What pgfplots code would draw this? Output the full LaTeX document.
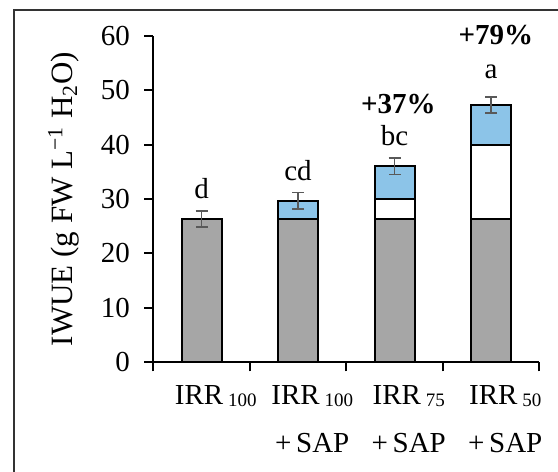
\documentclass[border=0pt,12pt]{standalone}
\usepackage{fontspec}
\setmainfont{Liberation Serif}
\usepackage{pgfplots}
\pgfplotsset{compat=1.18}
\definecolor{barblue}{RGB}{140,196,232}
\definecolor{bargray}{RGB}{166,166,166}
\definecolor{errgray}{RGB}{89,89,89}
\definecolor{framegray}{RGB}{51,51,51}
\newcommand{\sub}[1]{\,\raisebox{-0.15ex}{\fontsize{9.5}{10}\selectfont #1}}
\begin{document}
\begin{tikzpicture}
\useasboundingbox (-76.65pt,-54.85pt) rectangle (202.35pt,181.15pt);
\begin{axis}[
  at={(0,0)}, anchor=south west,
  scale only axis, width=193pt, height=163.3pt,
  xmin=-0.5, xmax=3.5, ymin=0, ymax=60,
  axis lines=left,
  axis line style={line width=1pt, -},
  ytick={0,10,...,60},
  xtick={-0.5,0.5,1.5,2.5,3.5},
  xticklabels={{IRR\sub{100}},{IRR\sub{100}\\+\,SAP},{IRR\sub{75}\\+\,SAP},{IRR\sub{50}\\+\,SAP},{}},
  tick align=outside,
  major tick length=4.5pt,
  tick style={line width=1pt, black},
  /pgf/number format/assume math mode=true,
  yticklabel style={font=\fontsize{14.5}{16}\selectfont, xshift=-3pt},
  xticklabel style={font=\fontsize{14.5}{24}\selectfont, align=center, anchor=north, xshift=31.2pt, yshift=-3pt},
  ylabel={IWUE (g FW L\textsuperscript{−1} H\textsubscript{2}O)},
  ylabel style={font=\fontsize{15.5}{17}\selectfont, at={(axis description cs:-0.232,0.5)}, anchor=center, rotate=0},
  clip=false,
]
\addplot[ybar, bar width=20pt, fill=barblue, draw=black, line width=1pt] coordinates {(1,29.7) (2,36.0) (3,47.3)};
\addplot[ybar, bar width=20pt, fill=white, draw=black, line width=1pt] coordinates {(2,30.0) (3,40.0)};
\addplot[ybar, bar width=20pt, fill=bargray, draw=black, line width=1pt] coordinates {(0,26.3) (1,26.3) (2,26.3) (3,26.3)};
\addplot[draw=none, no markers, error bars/.cd, y dir=both, y explicit,
  error bar style={draw=errgray, line width=0.9pt},
  error mark options={rotate=90, mark size=3pt, draw=errgray, line width=0.9pt}]
  coordinates {(0,26.3) +- (0,1.5) (1,29.7) +- (0,1.5) (2,36.0) +- (0,1.5) (3,47.3) +- (0,1.5)};
\node[font=\fontsize{14.5}{16}\selectfont] at (axis cs:0,32.0) {d};
\node[font=\fontsize{14.5}{16}\selectfont] at (axis cs:1,35.3) {cd};
\node[font=\fontsize{14.5}{16}\selectfont] at (axis cs:2,41.6) {bc};
\node[font=\fontsize{14.5}{16}\selectfont] at (axis cs:3,53.4) {a};
\node[font=\fontsize{14.5}{16}\selectfont\bfseries] at (axis cs:2.04,47.4) {+37\%};
\node[font=\fontsize{14.5}{16}\selectfont\bfseries] at (axis cs:3.05,60.1) {+79\%};
\end{axis}
\draw[framegray, line width=1.4pt] (-69.65pt,-60pt) -- (-69.65pt,176.15pt) -- (210pt,176.15pt);
\end{tikzpicture}
\end{document}
